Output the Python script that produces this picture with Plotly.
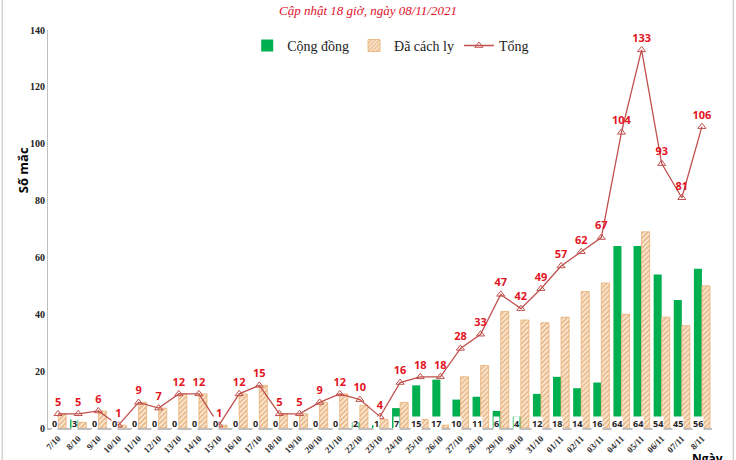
import plotly.graph_objects as go

dates = ["7/10", "8/10", "9/10", "10/10", "11/10", "12/10", "13/10", "14/10", "15/10", "16/10",
         "17/10", "18/10", "19/10", "20/10", "21/10", "22/10", "23/10", "24/10", "25/10", "26/10",
         "27/10", "28/10", "29/10", "30/10", "31/10", "01/11", "02/11", "03/11", "04/11", "05/11",
         "06/11", "07/11", "8/11"]
cong_dong = [0, 3, 0, 0, 0, 0, 0, 0, 0, 0, 0, 0, 0, 0, 0, 2, 1, 7, 15, 17,
             10, 11, 6, 4, 12, 18, 14, 16, 64, 64, 54, 45, 56]
cach_ly = [5, 2, 6, 1, 9, 7, 12, 12, 1, 12, 15, 5, 5, 9, 12, 8, 3, 9, 3, 1,
           18, 22, 41, 38, 37, 39, 48, 51, 40, 69, 39, 36, 50]
tong = [5, 5, 6, 1, 9, 7, 12, 12, 1, 12, 15, 5, 5, 9, 12, 10, 4, 16, 18, 18,
        28, 33, 47, 42, 49, 57, 62, 67, 104, 133, 93, 81, 106]

serif = "Liberation Serif, Times New Roman, serif"
sans = "Open Sans, DejaVu Sans, sans-serif"

fig = go.Figure()
fig.add_trace(go.Bar(x=dates, y=cong_dong, name="Cộng đồng",
                     marker=dict(color="#00B050", line=dict(width=0))))
fig.add_trace(go.Bar(x=dates, y=cach_ly, name="Đã cách ly",
                     marker=dict(color="white", line=dict(color="#E8AE72", width=0.8),
                                 pattern=dict(shape="/", fgcolor="#D4843A", bgcolor="#FDEEDC",
                                              size=3.5, solidity=0.55))))
fig.add_trace(go.Scatter(x=dates, y=tong, name="Tổng", mode="lines+markers+text",
                         line=dict(color="#C0504D", width=1.3),
                         marker=dict(symbol="triangle-up-open", size=7, color="#C0504D"),
                         text=[str(v) for v in tong], textposition="top center",
                         textfont=dict(family=sans, size=11, color="#E3141E", weight="bold"),
                         cliponaxis=False))

# white boxed labels for the community bars, near the base
for d, v in zip(dates, cong_dong):
    fig.add_annotation(x=d, y=1.7, text=str(v), showarrow=False, xshift=-4,
                       font=dict(family=sans, size=9, color="#222", weight="bold"),
                       bgcolor="white", borderpad=0)

fig.add_annotation(xref="paper", yref="paper", x=-0.054, y=0.648, text="<b>Số mắc</b>",
                   textangle=-90, showarrow=False, font=dict(family=sans, size=13, color="black"))
fig.add_annotation(xref="paper", yref="paper", x=1.02, y=-0.05, text="<b>Ngày</b>",
                   showarrow=False, yanchor="top", font=dict(family=sans, size=12, color="black"))

# chart border
fig.add_shape(type="rect", xref="paper", yref="paper", x0=-0.069, x1=1.032, y0=-0.2, y1=1.2,
              line=dict(color="#BFBFBF", width=1), layer="below")

fig.update_layout(
    width=736, height=460,
    margin=dict(l=48, r=24, t=30, b=32),
    plot_bgcolor="white", paper_bgcolor="white",
    barmode="group", bargap=0.2, bargroupgap=0,
    title=dict(text="Cập nhật 18 giờ, ngày 08/11/2021", x=0.5, xanchor="center",
               y=0.978, yanchor="middle",
               font=dict(family=serif, size=13, color="#E0102A", style="italic")),
    legend=dict(orientation="h", x=0.3, y=0.96, xanchor="left", yanchor="middle",
                font=dict(family=serif, size=14, color="#222"), bgcolor="rgba(0,0,0,0)",
                itemwidth=30),
    showlegend=True,
)
fig.update_xaxes(type="category", range=[-0.5, 32.5], tickangle=-45, showgrid=False,
                 showline=True, linecolor="#BFBFBF", linewidth=1.5, ticks="",
                 tickfont=dict(family=serif, size=9, color="#333", weight="bold"),
                 automargin=False)
fig.update_yaxes(range=[0, 140], dtick=20, showgrid=False, zeroline=False,
                 showline=True, linecolor="#BFBFBF", linewidth=1, ticks="",
                 tickfont=dict(family=serif, size=10, color="#222", weight="bold"),
                 automargin=False)

fig.write_html("out.html", config={"displayModeBar": False},
               post_script="document.body.style.margin='0';")
